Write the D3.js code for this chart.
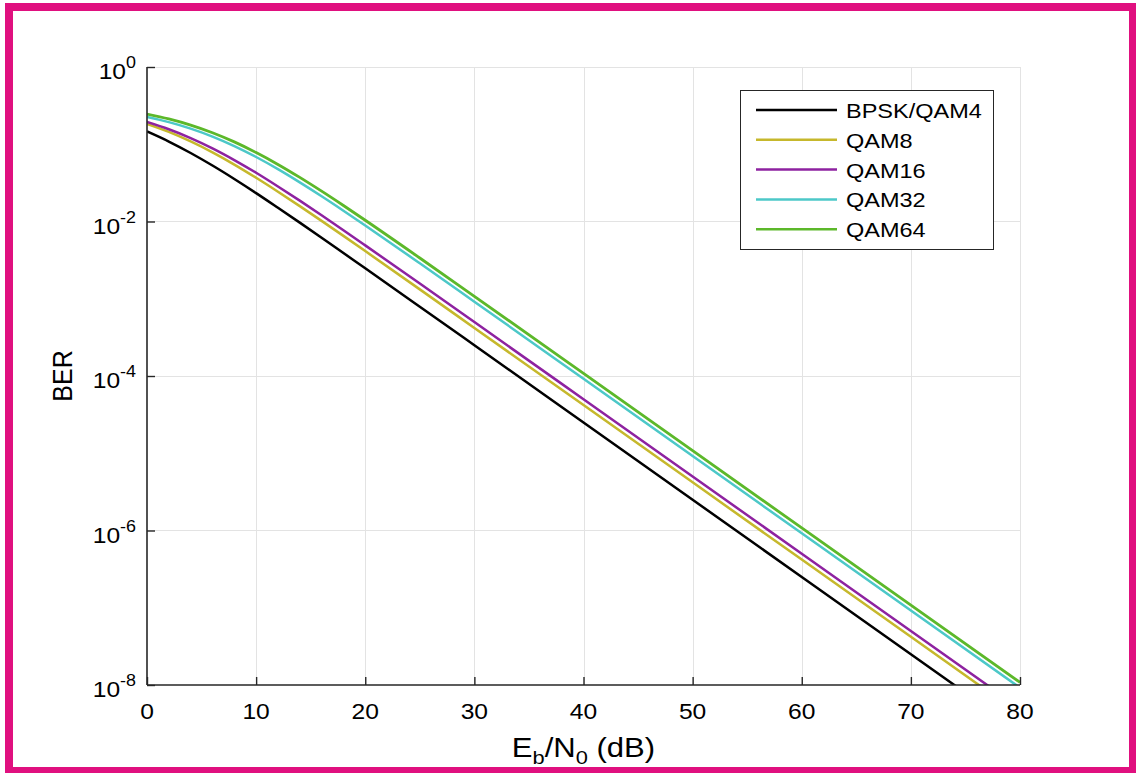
<!DOCTYPE html>
<html>
<head>
<meta charset="utf-8">
<script src="https://cdn.jsdelivr.net/npm/d3@7/dist/d3.min.js"></script>
<style>
  html, body { margin: 0; padding: 0; background: #ffffff; }
  svg { display: block; }
  text { font-family: "Liberation Sans", Arial, sans-serif; fill: #000; }
</style>
</head>
<body>
<svg id="chart" width="1136" height="773"></svg>
<script>
// Eb/N0 sample points (dB)
const ebn0 = [0, 2, 4, 6, 8, 10, 12, 14, 16, 18, 20, 25, 30, 40, 50, 60, 70, 80];

// Bit error rate per modulation
const berBPSK  = [0.1464, 0.1085, 0.0771, 0.0530, 0.0355, 0.0233, 0.01505, 0.00967, 0.00617, 0.00391, 0.00248, 7.89e-4, 2.5e-4, 2.5e-5, 2.5e-6, 2.5e-7, 2.5e-8, 2.5e-9];
const berQAM8  = [0.1831, 0.1443, 0.1087, 0.0785, 0.0546, 0.0368, 0.0243, 0.01582, 0.01019, 0.00651, 0.00414, 1.322e-3, 4.19e-4, 4.2e-5, 4.2e-6, 4.2e-7, 4.2e-8, 4.2e-9];
const berQAM16 = [0.1942, 0.1562, 0.1201, 0.0884, 0.0624, 0.0427, 0.0284, 0.01862, 0.01204, 0.00771, 0.00491, 1.572e-3, 4.99e-4, 5.0e-5, 5.0e-6, 5.0e-7, 5.0e-8, 5.0e-9];
const berQAM32 = [0.2255, 0.1933, 0.1594, 0.1257, 0.0947, 0.0684, 0.0476, 0.0321, 0.02123, 0.01381, 0.00889, 2.88e-3, 9.17e-4, 9.2e-5, 9.2e-6, 9.2e-7, 9.2e-8, 9.2e-9];
const berQAM64 = [0.2462, 0.2128, 0.1770, 0.1409, 0.1073, 0.0781, 0.0548, 0.0372, 0.02468, 0.01610, 0.01038, 3.37e-3, 1.075e-3, 1.08e-4, 1.08e-5, 1.08e-6, 1.08e-7, 1.08e-8];

const seriesNames = ["BPSK/QAM4", "QAM8", "QAM16", "QAM32", "QAM64"];
const seriesValues = [berBPSK, berQAM8, berQAM16, berQAM32, berQAM64];
const seriesColors = ["#000000", "#c6b82c", "#8e22a0", "#4cc8c8", "#5cb82a"];

// Axis ticks
const xTicks = [0, 10, 20, 30, 40, 50, 60, 70, 80];
const yTicks = [1e0, 1e-2, 1e-4, 1e-6, 1e-8];
const yTickExp = ["0", "-2", "-4", "-6", "-8"];

const svg = d3.select("#chart");
const W = 1136, H = 773;
const m = { left: 147, right: 1020, top: 67, bottom: 685 };
const sx = 1.12; // horizontal text stretch

// page background and magenta frame
svg.append("rect").attr("width", W).attr("height", H).attr("fill", "#ffffff");
svg.append("rect")
  .attr("x", 9).attr("y", 7).attr("width", 1124).attr("height", 764)
  .attr("fill", "none").attr("stroke", "#e0107f").attr("stroke-width", 8);

const x = d3.scaleLinear().domain([0, 80]).range([m.left, m.right]);
const y = d3.scaleLog().domain([1e-8, 1]).range([m.bottom, m.top]);

// grid
const grid = svg.append("g").attr("stroke", "#e3e3e3").attr("stroke-width", 1);
grid.selectAll("line.gx").data(xTicks.filter(d => d > 0)).join("line")
  .attr("x1", d => Math.round(x(d)) + 0.5).attr("x2", d => Math.round(x(d)) + 0.5)
  .attr("y1", m.top).attr("y2", m.bottom);
grid.selectAll("line.gy").data(yTicks.filter(d => d > 1e-8)).join("line")
  .attr("x1", m.left).attr("x2", m.right)
  .attr("y1", d => Math.round(y(d)) + 0.5).attr("y2", d => Math.round(y(d)) + 0.5);

// curves
svg.append("clipPath").attr("id", "plotClip")
  .append("rect").attr("x", m.left).attr("y", m.top - 5)
  .attr("width", m.right - m.left + 3).attr("height", m.bottom - m.top + 5);

const line = d3.line()
  .x((d, i) => x(ebn0[i]))
  .y(d => y(d))
  .curve(d3.curveMonotoneX);

const curves = svg.append("g").attr("clip-path", "url(#plotClip)");
seriesValues.forEach((vals, k) => {
  curves.append("path")
    .attr("d", line(vals))
    .attr("fill", "none")
    .attr("stroke", seriesColors[k])
    .attr("stroke-width", k === 4 ? 2.8 : 2.5)
    .attr("stroke-linejoin", "round");
});

// axes (ticks point inward)
const axisColor = "#262626";
const xAxis = svg.append("g").attr("transform", `translate(0,${m.bottom})`)
  .call(d3.axisBottom(x).tickValues(xTicks).tickSize(-8).tickFormat(""));
const yAxis = svg.append("g").attr("transform", `translate(${m.left},0)`)
  .call(d3.axisLeft(y).tickValues(yTicks).tickSize(-8).tickFormat(""));
[xAxis, yAxis].forEach(g => {
  g.select(".domain").attr("stroke", axisColor).attr("stroke-width", 1.6);
  g.selectAll(".tick line").attr("stroke", axisColor).attr("stroke-width", 1.4);
});
xAxis.select(".domain").attr("d", `M${m.left},0H${m.right}`);
yAxis.select(".domain").attr("d", `M0,${m.bottom}V${m.top}`);

// x tick labels
xTicks.forEach(t => {
  svg.append("text")
    .attr("transform", `translate(${x(t)},719) scale(${sx},1)`)
    .attr("text-anchor", "middle")
    .attr("font-size", 22)
    .text(t);
});

// y tick labels 10^n
yTicks.forEach((t, i) => {
  const g = svg.append("g")
    .attr("transform", `translate(${m.left - 11},${y(t)}) scale(${sx},1)`);
  const txt = g.append("text").attr("text-anchor", "end").attr("font-size", 22).attr("y", 12);
  txt.append("tspan").text("10");
  txt.append("tspan").attr("dy", -11).attr("font-size", 16).text(yTickExp[i]);
});

// axis titles
svg.append("text")
  .attr("transform", `translate(62,376) scale(${sx},1) rotate(-90)`)
  .attr("text-anchor", "middle")
  .attr("dy", "0.35em")
  .attr("font-size", 25)
  .text("BER");

const xt = svg.append("text")
  .attr("transform", `translate(${(m.left + m.right) / 2},757) scale(1.15,1)`)
  .attr("text-anchor", "middle")
  .attr("font-size", 27);
xt.append("tspan").text("E");
xt.append("tspan").attr("font-size", 19).attr("dy", 7).text("b");
xt.append("tspan").attr("dy", -7).text("/N");
xt.append("tspan").attr("font-size", 19).attr("dy", 7).text("0");
xt.append("tspan").attr("dy", -7).text(" (dB)");

// legend
const lg = svg.append("g");
lg.append("rect")
  .attr("x", 740.5).attr("y", 90.5).attr("width", 253).attr("height", 159)
  .attr("fill", "#ffffff").attr("stroke", axisColor).attr("stroke-width", 1);
seriesNames.forEach((name, k) => {
  const ly = 110 + k * 29.8;
  lg.append("line")
    .attr("x1", 756).attr("x2", 837).attr("y1", ly).attr("y2", ly)
    .attr("stroke", seriesColors[k]).attr("stroke-width", 2.5);
  lg.append("text")
    .attr("transform", `translate(846,${ly + 8}) scale(${sx},1)`)
    .attr("font-size", 21)
    .text(name);
});
</script>
</body>
</html>
